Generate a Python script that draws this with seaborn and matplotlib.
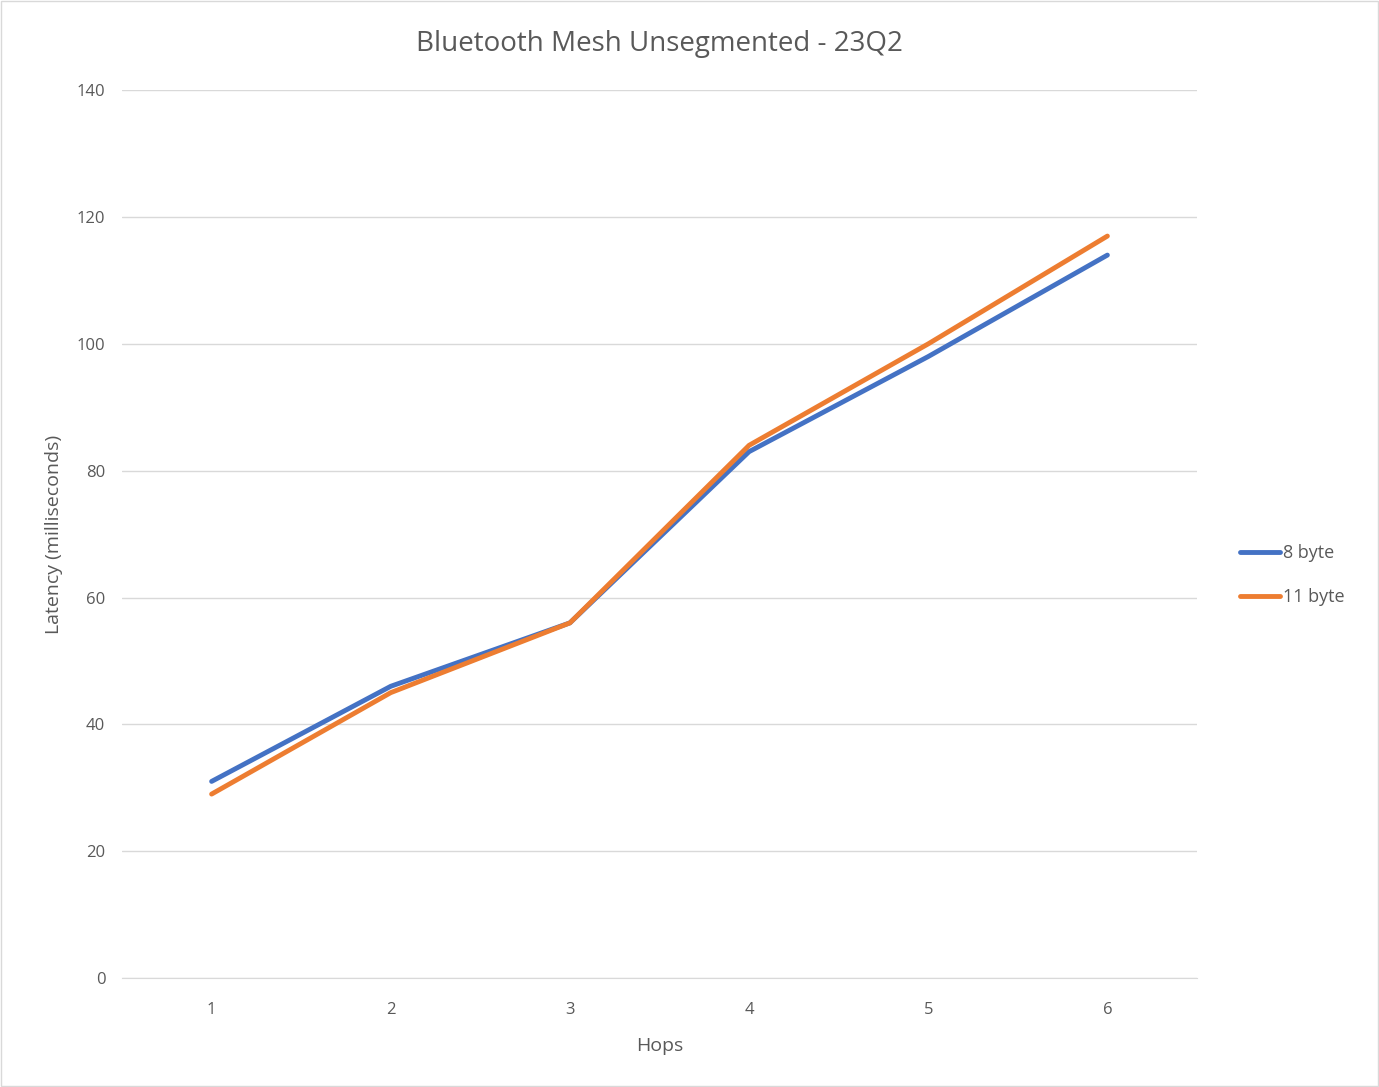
import matplotlib
matplotlib.use("Agg")
import matplotlib.pyplot as plt
import seaborn as sns
import pandas as pd

hops = [1, 2, 3, 4, 5, 6]
latency_8 = [31, 46, 56, 83, 98, 114]
latency_11 = [29, 45, 56, 84, 100, 117]
series_names = ["8 byte", "11 byte"]

df = pd.DataFrame({
    "Hops": hops * 2,
    "Latency": latency_8 + latency_11,
    "Series": [series_names[0]] * 6 + [series_names[1]] * 6,
})

sns.set_style("white")
plt.rcParams['font.family'] = ['Open Sans', 'DejaVu Sans']
grey = "#595959"

fig = plt.figure(figsize=(13.79, 10.87), dpi=100)
ax = fig.add_axes([0.0885, 0.1003, 0.7795, 0.8167])

sns.lineplot(data=df, x="Hops", y="Latency", hue="Series",
             palette=["#4472C4", "#ED7D31"], linewidth=3.5, ax=ax)

ax.set_xlim(0.5, 6.5)
ax.set_ylim(0, 140)
ax.set_xticks(hops)
ax.set_yticks(range(0, 141, 20))
ax.grid(axis="y", color="#D9D9D9", linewidth=1)
ax.set_axisbelow(True)
for s in ["top", "right", "left"]:
    ax.spines[s].set_visible(False)
ax.spines["bottom"].set_color("#D9D9D9")
ax.tick_params(axis="y", colors=grey, labelsize=12, length=0, pad=12)
ax.tick_params(axis="x", colors=grey, labelsize=12, length=0, pad=17)
ax.set_xlabel("Hops", color=grey, fontsize=14, labelpad=14)
ax.set_ylabel("Latency (milliseconds)", color=grey, fontsize=14, labelpad=10)
ax.set_title("Bluetooth Mesh Unsegmented - 23Q2", color=grey, fontsize=20, pad=28)

leg = ax.legend(loc="center left", bbox_to_anchor=(1.025, 0.454), frameon=False,
                fontsize=13, handlelength=2.2, labelspacing=1.45, handletextpad=0.2)
for t in leg.get_texts():
    t.set_color(grey)

fig.patches.append(plt.Rectangle((0.001, 0.001), 0.998, 0.998, transform=fig.transFigure,
                                 fill=False, edgecolor="#D9D9D9", linewidth=1))
fig.savefig("out.png", dpi=100, facecolor="white")
